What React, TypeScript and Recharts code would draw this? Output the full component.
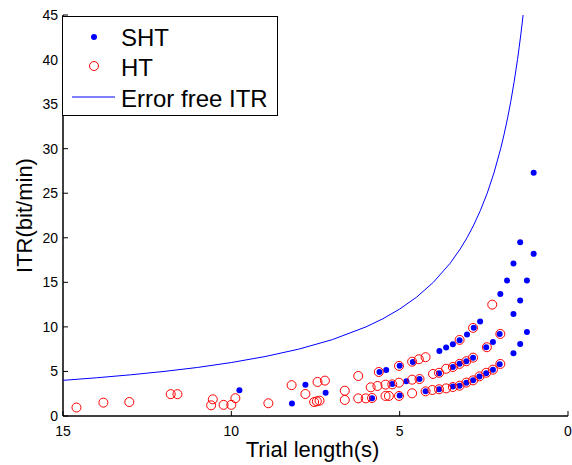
import { ScatterChart, Scatter, XAxis, YAxis, Legend } from "recharts"

// SHT: trial length (s) / ITR (bit/min)
const shtTrialLength = [
    9.76, 8.2, 7.8, 7.2, 5.82,
    5.6, 5.4, 5.0, 4.61, 3.82, 3.62, 3.42, 3.22, 3.0, 2.8, 2.61, 2.01, 1.81, 1.62, 1.42, 1.02,
    5.22, 4.8, 4.41, 3.83, 3.42, 3.22, 3.02, 2.82, 2.43, 2.23, 2.03, 1.62, 1.42, 1.22, 1.02,
    5.0, 4.23, 3.83, 3.42, 3.22, 3.02, 2.82, 2.63, 2.43, 2.23, 2.03, 1.62, 1.42, 1.22,
]
const shtItr = [
    2.9, 1.4, 3.5, 2.6, 2.0,
    4.94, 5.17, 5.65, 6.07, 7.3, 7.7, 8.05, 8.5, 9.15, 9.9, 10.6, 13.7, 15.2, 17.1, 19.5, 27.3,
    3.6, 3.9, 4.15, 4.8, 5.5, 5.85, 6.15, 6.55, 7.72, 8.3, 9.2, 11.46, 12.96, 15.2, 18.2,
    2.3, 2.77, 3.0, 3.3, 3.4, 3.74, 4.0, 4.42, 4.8, 5.2, 5.8, 7.04, 8.09, 9.44,
]

// HT
const htTrialLength = [
    14.6, 13.8, 13.03, 11.8, 11.6, 10.55, 10.6, 10.23, 10.0, 9.88, 8.9, 8.21, 7.8, 7.44, 7.22,
    7.54, 7.46, 7.38, 6.63, 6.63, 6.23, 6.23, 6.01, 5.82,
    5.42, 5.32, 5.02, 4.63, 4.23, 4.03, 3.83, 3.62, 3.42, 3.22, 3.02, 2.82, 2.63, 2.43, 2.23, 2.01,
    5.86, 5.66, 5.42, 5.22, 5.02, 4.63, 4.41, 4.01, 3.83, 3.62, 3.42, 3.22, 3.02, 2.82, 2.41, 2.01,
    5.62, 5.02, 4.63, 4.43, 4.23, 3.22, 2.82, 2.25,
]
const htItr = [
    0.95, 1.5, 1.57, 2.45, 2.45, 1.87, 1.2, 1.25, 1.25, 2.0, 1.43, 3.46, 2.47, 3.82, 3.97,
    1.57, 1.65, 1.72, 2.84, 1.8, 4.49, 1.98, 1.98, 2.02,
    2.25, 2.25, 2.25, 2.55, 2.77, 2.92, 3.0, 3.1, 3.25, 3.4, 3.75, 4.0, 4.45, 4.85, 5.2, 5.84,
    3.22, 3.37, 3.52, 3.55, 3.74, 4.08, 4.15, 4.72, 4.85, 5.3, 5.5, 5.85, 6.15, 6.55, 7.72, 9.21,
    4.94, 5.62, 6.1, 6.37, 6.6, 8.54, 9.89, 12.5,
]

// Error free ITR curve
const curveTrialLength = [
    15, 14, 13, 12, 11, 10, 9, 8, 7, 6, 5.5, 5, 4.5, 4, 3.5, 3.2, 3, 2.8, 2.6, 2.4,
    2.2, 2.0, 1.9, 1.8, 1.7, 1.6, 1.5, 1.45, 1.4, 1.36, 1.333,
]
const curveItr = [
    4, 4.29, 4.62, 5, 5.45, 6, 6.67, 7.5, 8.57, 10, 10.91, 12, 13.33, 15, 17.14, 18.75, 20, 21.43, 23.08, 25,
    27.27, 30, 31.58, 33.33, 35.29, 37.5, 40, 41.38, 42.86, 44.12, 45,
]

const xTicks = [0, 5, 10, 15]
const yTicks = [0, 5, 10, 15, 20, 25, 30, 35, 40, 45]

const sht = shtTrialLength.map((t, i) => ({ t, itr: shtItr[i] }))
const ht = htTrialLength.map((t, i) => ({ t, itr: htItr[i] }))
const curve = curveTrialLength.map((t, i) => ({ t, itr: curveItr[i] }))

const FONT = "'Liberation Sans', Arial, sans-serif"
const BLUE = "#0000ff"
const RED = "#ff0000"

const LeftTick = ({ x, y, payload }: any) => (
    <g>
        <line x1={x} y1={y} x2={x + 5} y2={y} stroke="#000" />
        <text x={x - 5} y={y + 5} textAnchor="end" fontSize={14} fontFamily={FONT} fill="#000">
            {payload.value}
        </text>
    </g>
)
const RightTick = ({ x, y }: any) => (
    <line x1={x - 5} y1={y} x2={x} y2={y} stroke="#000" />
)
const BottomTick = ({ x, y, payload }: any) => (
    <g>
        <line x1={x} y1={y} x2={x} y2={y - 5} stroke="#000" />
        <text x={x} y={y + 20} textAnchor="middle" fontSize={14} fontFamily={FONT} fill="#000">
            {payload.value}
        </text>
    </g>
)
const TopTick = ({ x, y }: any) => (
    <line x1={x} y1={y} x2={x} y2={y + 5} stroke="#000" />
)

const XLabel = ({ viewBox }: any) => (
    <text x={viewBox.x + viewBox.width / 2 - 3} y={457} textAnchor="middle" fontSize={22} fontFamily={FONT} fill="#000">
        Trial length(s)
    </text>
)
const YLabel = ({ viewBox }: any) => {
    const cy = viewBox.y + viewBox.height / 2
    return (
        <text x={32} y={cy} transform={`rotate(-90 32 ${cy})`} textAnchor="middle" fontSize={22} fontFamily={FONT} fill="#000">
            ITR(bit/min)
        </text>
    )
}

const Dot = ({ cx, cy }: any) => <circle cx={cx} cy={cy} r={3} fill={BLUE} />
const Ring = ({ cx, cy }: any) => <circle cx={cx} cy={cy} r={4.5} fill="none" stroke={RED} strokeWidth={1} />

const LegendBox = () => (
    <svg width={216} height={100} style={{ display: "block" }}>
        <rect x={0.5} y={0.5} width={215} height={99} fill="#fff" stroke="#000" />
        <circle cx={32} cy={21} r={3} fill={BLUE} />
        <text x={59} y={30} fontSize={24} fontFamily={FONT} fill="#000">SHT</text>
        <circle cx={32} cy={50} r={4.5} fill="none" stroke={RED} />
        <text x={59} y={60} fontSize={24} fontFamily={FONT} fill="#000">HT</text>
        <line x1={10} y1={81} x2={53} y2={81} stroke={BLUE} />
        <text x={59} y={91} fontSize={24} fontFamily={FONT} fill="#000">Error free ITR</text>
    </svg>
)

export default function App() {
    return (
        <div style={{ position: "absolute", left: 0, top: 0, width: 572, height: 465, background: "#fff", fontFamily: FONT }}>
            <ScatterChart width={572} height={465} margin={{ top: 15, right: 4, bottom: 0, left: 0 }}>
                <XAxis
                    xAxisId="b"
                    type="number"
                    dataKey="t"
                    domain={[0, 15]}
                    ticks={xTicks}
                    reversed
                    height={49}
                    tickSize={0}
                    tickMargin={0}
                    tickLine={false}
                    axisLine={{ stroke: "#000", strokeWidth: 1.5 }}
                    tick={<BottomTick />}
                    label={<XLabel />}
                />
                <XAxis
                    xAxisId="t"
                    orientation="top"
                    type="number"
                    dataKey="t"
                    domain={[0, 15]}
                    ticks={xTicks}
                    reversed
                    height={0}
                    tickSize={0}
                    tickMargin={0}
                    tickLine={false}
                    axisLine={{ stroke: "#000", strokeWidth: 1.5 }}
                    tick={<TopTick />}
                />
                <YAxis
                    yAxisId="l"
                    type="number"
                    dataKey="itr"
                    domain={[0, 45]}
                    ticks={yTicks}
                    width={63}
                    tickSize={0}
                    tickMargin={0}
                    tickLine={false}
                    axisLine={{ stroke: "#000", strokeWidth: 1.5 }}
                    tick={<LeftTick />}
                    label={<YLabel />}
                />
                <YAxis
                    yAxisId="r"
                    orientation="right"
                    type="number"
                    dataKey="itr"
                    domain={[0, 45]}
                    ticks={yTicks}
                    width={0}
                    tickSize={0}
                    tickMargin={0}
                    tickLine={false}
                    axisLine={{ stroke: "#000", strokeWidth: 1.5 }}
                    tick={<RightTick />}
                />
                <Legend
                    layout="vertical"
                    align="center"
                    verticalAlign="middle"
                    wrapperStyle={{ left: 62, top: 16, width: 216, height: 100 }}
                    content={() => <LegendBox />}
                />
                <Scatter name="SHT" data={sht} xAxisId="b" yAxisId="l" shape={<Dot />} isAnimationActive={false} />
                <Scatter name="HT" data={ht} xAxisId="b" yAxisId="l" shape={<Ring />} isAnimationActive={false} />
                <Scatter
                    name="Error free ITR"
                    data={curve}
                    xAxisId="b"
                    yAxisId="l"
                    line={{ stroke: BLUE, strokeWidth: 1 }}
                    shape={() => <g />}
                    isAnimationActive={false}
                />
            </ScatterChart>
        </div>
    )
}
